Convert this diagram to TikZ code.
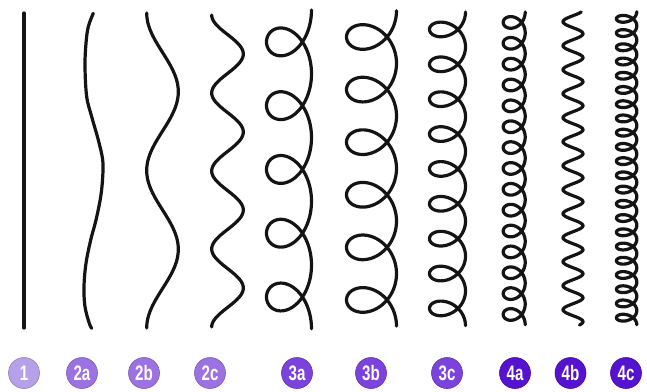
\documentclass[tikz,border=0pt]{standalone}
\usepackage{fontspec}
\newfontfamily\lblfont[FakeStretch=0.72]{Liberation Sans}
\definecolor{cone}{HTML}{B7A0EA}
\definecolor{ctwo}{HTML}{9C72E3}
\definecolor{cthree}{HTML}{7C42DC}
\definecolor{cfour}{HTML}{5512CF}
\tikzset{
  hair/.style={line width=3.2pt, line cap=round, line join=round, black!92},
  badge/.style={circle, fill=#1, draw=#1!80!black, line width=0.6pt, minimum size=31pt, inner sep=0pt,
    text=white, font=\lblfont\bfseries\fontsize{21}{21}\selectfont}
}
\begin{document}
\begin{tikzpicture}[x=1pt,y=-1pt]
\useasboundingbox (0,0) rectangle (647,391);
% type 1
\coordinate (a1) at (24,13);
\coordinate (b1) at (24,328);
\draw[hair] (a1) -- (b1);
% type 2a
\draw[hair] plot[smooth, tension=0.6] coordinates {(93.3,13.3) (88.3,26.7) (86,43.3) (85,66.7) (86.7,96.7) (91.7,116.7) (98.3,140) (102.7,160) (102.7,176.7) (100.7,196.7) (96,220) (90.7,240) (86,263.3) (84,286.7) (85,306.7) (89.3,323.3) (91.7,328.3)};
% type 2b
\draw[hair] plot[variable=\s, domain=13:328, samples=200] ({162.5-15.8*cos(2.285714*(\s-13))},{\s});
% type 2c
\draw[hair] plot[variable=\s, domain=15:327, samples=240] ({227.5-15.8*cos(4.615385*(\s-15))},{\s});
% type 3a
\draw[hair] plot[variable=\t, domain=0:31.4159, samples=400] ({289+22.5*cos(\t r)},{10+10.15*\t+28*sin(\t r)});
% type 3b
\draw[hair] plot[variable=\t, domain=0:37.6991, samples=450] ({371.5+25*cos(\t r)},{10.7+8.37*\t+24*sin(\t r)});
% type 3c
\draw[hair] plot[variable=\t, domain=0:56.5487, samples=600] ({447.5+18*cos(\t r)},{12+5.55*\t+15*sin(\t r)});
% type 4a
\draw[hair] plot[variable=\t, domain=0:94.2478, samples=800] ({514.2+11*cos(\t r)},{12+3.32*\t+10.5*sin(\t r)});
% type 4b
\draw[hair] plot[variable=\s, domain=12:325, samples=500] ({573-10*cos(15*(\s-21.7))},{\s});
% type 4c
\draw[hair] plot[variable=\t, domain=0:138.23, samples=1000] ({626.6+10.2*cos(\t r)},{11.7+2.265*\t+6.56*sin(\t r)});
% labels
\node[badge=cone]   (l1)  at (24,373)  {1};
\node[badge=ctwo]   (l2a) at (82,373)  {2a};
\node[badge=ctwo]   (l2b) at (144,373) {2b};
\node[badge=ctwo]   (l2c) at (210,373) {2c};
\node[badge=cthree] (l3a) at (297,373) {3a};
\node[badge=cthree] (l3b) at (371,373) {3b};
\node[badge=cthree] (l3c) at (447,373) {3c};
\node[badge=cfour]  (l4a) at (515,373) {4a};
\node[badge=cfour]  (l4b) at (570.5,373) {4b};
\node[badge=cfour]  (l4c) at (626,373) {4c};
\end{tikzpicture}
\end{document}
